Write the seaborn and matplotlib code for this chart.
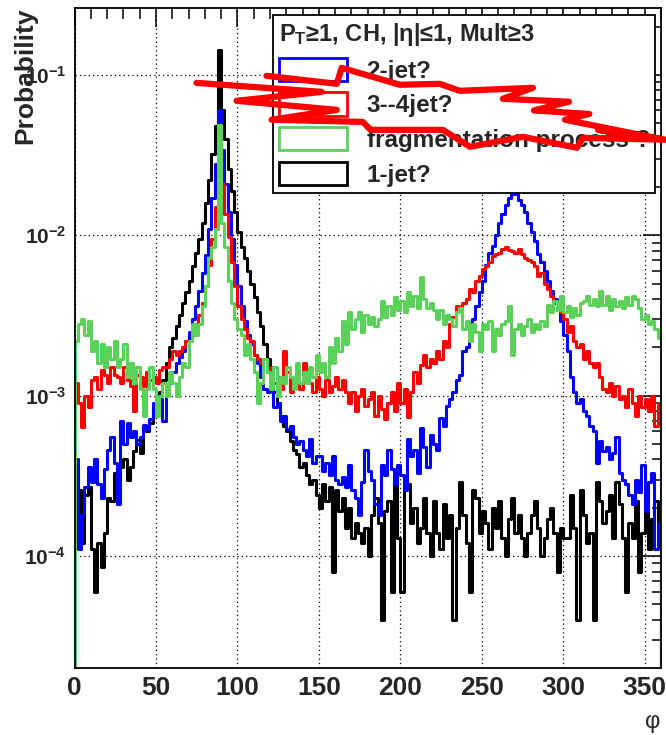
import numpy as np
import pandas as pd
import matplotlib
matplotlib.use("Agg")
import matplotlib.pyplot as plt
from matplotlib.patches import Patch
from matplotlib.ticker import MultipleLocator, LogLocator, FuncFormatter, NullFormatter
import seaborn as sns

# phi binning: 180 bins of 2 degrees, one row below = 20 degrees
phi_edges = list(range(0, 362, 2))
phi_centers = [e + 1 for e in phi_edges[:-1]]

two_jet = [
    4.0e-4, 1.1e-4, 1.8e-4, 2.7e-4, 3.6e-4, 2.9e-4, 4.0e-4, 2.8e-4, 2.3e-4, 3.5e-4,
    4.6e-4, 5.5e-4, 3.8e-4, 2.1e-4, 7.0e-4, 5.0e-4, 6.8e-4, 5.5e-4, 6.0e-4, 5.0e-4,
    5.5e-4, 6.6e-4, 6.2e-4, 7.2e-4, 9.0e-4, 8.0e-4, 9.5e-4, 7.0e-4, 1.05e-3, 1.2e-3,
    1.4e-3, 1.6e-3, 1.75e-3, 1.9e-3, 2.2e-3, 2.5e-3, 3.0e-3, 3.6e-3, 4.5e-3, 5.8e-3,
    7.5e-3, 0.011, 0.017, 0.028, 0.060, 0.034, 0.021, 0.014, 0.0095, 0.0065,
    0.0048, 0.0036, 0.0029, 0.0024, 0.0021, 0.0018, 0.0016, 0.0013, 0.0011, 0.00105,
    1.1e-3, 8.5e-4, 9.0e-4, 7.0e-4, 7.5e-4, 6.2e-4, 6.5e-4, 5.5e-4, 5.0e-4, 5.2e-4,
    4.6e-4, 4.2e-4, 5.4e-4, 3.8e-4, 4.2e-4, 4.2e-4, 3.4e-4, 3.8e-4, 3.2e-4, 4.2e-4,
    3.0e-4, 2.8e-4, 3.1e-4, 2.7e-4, 3.7e-4, 2.6e-4, 2.3e-4, 1.8e-4, 2.9e-4, 4.6e-4,
    3.4e-4, 3.0e-4, 2.1e-4, 1.8e-4, 3.7e-4, 3.2e-4, 4.6e-4, 3.5e-4, 2.8e-4, 3.7e-4,
    3.2e-4, 2.6e-4, 5.4e-4, 4.2e-4, 4.6e-4, 3.3e-4, 6.3e-4, 4.8e-4, 3.6e-4, 5.7e-4,
    5.0e-4, 4.6e-4, 7.3e-4, 6.5e-4, 8.6e-4, 9.5e-4, 1.05e-3, 1.25e-3, 1.35e-3, 1.9e-3,
    2.0e-3, 2.6e-3, 3.0e-3, 3.6e-3, 4.4e-3, 5.2e-3, 6.5e-3, 7.8e-3, 8.6e-3, 1.0e-2,
    1.2e-2, 1.35e-2, 1.55e-2, 1.7e-2, 1.82e-2, 1.8e-2, 1.65e-2, 1.55e-2, 1.4e-2, 1.2e-2,
    1.05e-2, 9.2e-3, 7.6e-3, 6.8e-3, 6.0e-3, 5.2e-3, 4.5e-3, 4.0e-3, 3.5e-3, 2.9e-3,
    2.4e-3, 1.9e-3, 1.3e-3, 1.05e-3, 9.0e-4, 9.5e-4, 8.0e-4, 7.5e-4, 6.5e-4, 6.0e-4,
    3.8e-4, 5.2e-4, 4.5e-4, 4.8e-4, 4.0e-4, 4.4e-4, 5.5e-4, 3.3e-4, 3.0e-4, 2.8e-4,
    2.4e-4, 2.1e-4, 3.0e-4, 2.5e-4, 3.7e-4, 1.9e-4, 2.9e-4, 3.3e-4, 1.1e-4, 1.6e-4,
]

three_four_jet = [
    1.2e-3, 9.0e-4, 6.4e-4, 1.0e-3, 8.5e-4, 1.25e-3, 1.3e-3, 1.1e-3, 1.45e-3, 1.35e-3,
    1.2e-3, 1.5e-3, 1.35e-3, 1.3e-3, 1.2e-3, 1.5e-3, 1.25e-3, 1.15e-3, 8.0e-4, 1.35e-3,
    1.3e-3, 1.15e-3, 1.4e-3, 1.25e-3, 1.3e-3, 1.2e-3, 1.45e-3, 1.5e-3, 1.5e-3, 1.7e-3,
    1.9e-3, 1.8e-3, 1.9e-3, 2.0e-3, 2.2e-3, 2.2e-3, 2.4e-3, 2.8e-3, 3.2e-3, 3.8e-3,
    4.8e-3, 6.5e-3, 9.5e-3, 0.015, 0.026, 0.021, 0.0135, 0.0098, 0.0068, 0.0048,
    0.0036, 0.0030, 0.0026, 0.0023, 0.0022, 0.0018, 0.0017, 0.0016, 0.0017, 0.0014,
    1.5e-3, 1.2e-3, 1.3e-3, 1.1e-3, 1.9e-3, 1.4e-3, 1.05e-3, 1.2e-3, 1.3e-3, 1.1e-3,
    1.6e-3, 1.35e-3, 1.2e-3, 1.05e-3, 1.3e-3, 1.1e-3, 1.0e-3, 1.25e-3, 1.05e-3, 1.15e-3,
    1.3e-3, 1.1e-3, 1.25e-3, 1.05e-3, 9.0e-4, 1.05e-3, 8.0e-4, 1.0e-3, 1.1e-3, 8.6e-4,
    9.5e-4, 1.05e-3, 7.5e-4, 1.0e-3, 8.2e-4, 7.2e-4, 9.0e-4, 1.05e-3, 8.0e-4, 1.2e-3,
    9.0e-4, 1.1e-3, 7.4e-4, 1.05e-3, 1.4e-3, 1.2e-3, 1.55e-3, 1.8e-3, 1.5e-3, 1.7e-3,
    1.6e-3, 1.9e-3, 1.7e-3, 2.2e-3, 2.0e-3, 2.8e-3, 3.1e-3, 3.6e-3, 3.4e-3, 3.8e-3,
    4.0e-3, 4.6e-3, 4.4e-3, 5.2e-3, 5.6e-3, 6.2e-3, 6.4e-3, 6.8e-3, 7.4e-3, 7.6e-3,
    7.8e-3, 8.2e-3, 8.4e-3, 8.1e-3, 8.0e-3, 7.8e-3, 8.2e-3, 7.6e-3, 7.2e-3, 7.0e-3,
    6.8e-3, 6.4e-3, 5.6e-3, 5.8e-3, 5.0e-3, 4.6e-3, 4.2e-3, 3.8e-3, 3.4e-3, 3.3e-3,
    3.0e-3, 2.5e-3, 2.7e-3, 2.2e-3, 2.0e-3, 2.1e-3, 1.7e-3, 1.9e-3, 1.6e-3, 1.5e-3,
    1.6e-3, 1.3e-3, 1.1e-3, 1.05e-3, 1.2e-3, 1.0e-3, 1.15e-3, 9.5e-4, 1.0e-3, 8.5e-4,
    1.1e-3, 9.0e-4, 7.5e-4, 1.0e-3, 8.5e-4, 9.5e-4, 8.0e-4, 1.0e-3, 6.5e-4, 9.0e-4,
]

fragmentation = [
    2.2e-3, 2.8e-3, 3.0e-3, 2.4e-3, 2.9e-3, 1.9e-3, 2.2e-3, 1.6e-3, 2.1e-3, 1.5e-3,
    2.0e-3, 1.7e-3, 2.2e-3, 1.5e-3, 1.7e-3, 2.1e-3, 1.3e-3, 1.6e-3, 1.2e-3, 1.5e-3,
    1.1e-3, 7.5e-4, 1.1e-3, 1.5e-3, 1.1e-3, 7.5e-4, 1.0e-3, 1.2e-3, 1.0e-3, 1.4e-3,
    1.2e-3, 1.0e-3, 1.3e-3, 1.6e-3, 1.5e-3, 2.2e-3, 2.8e-3, 2.4e-3, 2.8e-3, 3.6e-3,
    4.8e-3, 7.2e-3, 8.5e-3, 0.011, 0.049, 0.012, 0.0085, 0.0052, 0.0038, 0.0030,
    0.0026, 0.0024, 0.0018, 0.0021, 0.0017, 0.0014, 9.0e-4, 1.2e-3, 1.7e-3, 1.4e-3,
    1.1e-3, 1.5e-3, 1.0e-3, 1.3e-3, 1.2e-3, 1.5e-3, 1.3e-3, 1.1e-3, 1.6e-3, 1.2e-3,
    1.4e-3, 1.2e-3, 1.5e-3, 1.3e-3, 1.8e-3, 1.4e-3, 1.6e-3, 1.3e-3, 2.0e-3, 1.6e-3,
    2.3e-3, 1.9e-3, 2.9e-3, 2.1e-3, 3.3e-3, 2.6e-3, 3.0e-3, 3.3e-3, 2.5e-3, 3.2e-3,
    2.8e-3, 3.1e-3, 2.7e-3, 3.0e-3, 3.9e-3, 3.1e-3, 3.6e-3, 3.2e-3, 4.1e-3, 3.4e-3,
    3.9e-3, 3.3e-3, 4.4e-3, 3.6e-3, 4.2e-3, 3.5e-3, 5.5e-3, 4.0e-3, 3.5e-3, 3.8e-3,
    3.4e-3, 3.0e-3, 3.4e-3, 2.8e-3, 3.2e-3, 3.0e-3, 2.7e-3, 3.3e-3, 3.5e-3, 2.6e-3,
    2.9e-3, 2.2e-3, 2.8e-3, 2.5e-3, 1.9e-3, 2.8e-3, 2.6e-3, 2.9e-3, 1.9e-3, 2.6e-3,
    2.4e-3, 2.8e-3, 2.9e-3, 3.6e-3, 1.8e-3, 2.6e-3, 2.8e-3, 2.4e-3, 2.7e-3, 3.0e-3,
    2.5e-3, 2.8e-3, 2.6e-3, 2.9e-3, 2.7e-3, 3.7e-3, 3.3e-3, 3.9e-3, 3.4e-3, 4.2e-3,
    3.3e-3, 3.6e-3, 3.1e-3, 3.5e-3, 3.2e-3, 3.8e-3, 3.9e-3, 4.2e-3, 3.7e-3, 4.0e-3,
    3.6e-3, 4.5e-3, 3.7e-3, 4.2e-3, 3.4e-3, 4.0e-3, 3.6e-3, 3.9e-3, 3.5e-3, 4.1e-3,
    3.7e-3, 4.2e-3, 4.0e-3, 3.5e-3, 3.0e-3, 3.2e-3, 2.8e-3, 2.9e-3, 2.6e-3, 2.3e-3,
]

one_jet = [
    1.5e-4, 2.6e-4, 1.2e-4, 2.4e-4, 2.7e-4, 1.1e-4, 6.0e-5, 1.2e-4, 8.5e-5, 1.4e-4,
    2.3e-4, 2.2e-4, 3.3e-4, 2.7e-4, 3.6e-4, 4.0e-4, 3.0e-4, 3.6e-4, 4.5e-4, 5.3e-4,
    4.4e-4, 6.4e-4, 6.0e-4, 6.8e-4, 8.0e-4, 8.5e-4, 1.05e-3, 1.25e-3, 1.6e-3, 2.0e-3,
    2.3e-3, 2.7e-3, 3.2e-3, 3.8e-3, 4.4e-3, 5.2e-3, 6.4e-3, 7.8e-3, 9.5e-3, 0.012,
    0.016, 0.022, 0.032, 0.048, 0.143, 0.060, 0.040, 0.026, 0.019, 0.014,
    0.0105, 0.0085, 0.0072, 0.0060, 0.0050, 0.0041, 0.0033, 0.0027, 0.0021, 0.0017,
    1.3e-3, 1.05e-3, 9.0e-4, 7.5e-4, 6.5e-4, 6.0e-4, 5.2e-4, 4.6e-4, 4.3e-4, 3.6e-4,
    3.8e-4, 3.2e-4, 2.8e-4, 3.0e-4, 2.4e-4, 2.0e-4, 2.8e-4, 2.2e-4, 2.7e-4, 8.0e-5,
    2.6e-4, 1.9e-4, 2.3e-4, 1.5e-4, 2.0e-4, 1.3e-4, 1.6e-4, 1.4e-4, 1.2e-4, 1.5e-4,
    1.0e-4, 1.8e-4, 2.3e-4, 1.6e-4, 4.0e-5, 1.9e-4, 2.2e-4, 6.0e-5, 2.9e-4, 1.3e-4,
    6.0e-5, 2.7e-4, 2.8e-4, 1.6e-4, 2.0e-4, 1.2e-4, 1.5e-4, 2.3e-4, 1.4e-4, 1.0e-4,
    2.2e-4, 1.4e-4, 1.1e-4, 2.1e-4, 1.3e-4, 1.8e-4, 4.0e-5, 1.5e-4, 2.9e-4, 1.8e-4,
    1.2e-4, 6.0e-5, 2.6e-4, 2.3e-4, 1.4e-4, 1.9e-4, 1.6e-4, 1.1e-4, 2.0e-4, 1.5e-4,
    2.2e-4, 1.3e-4, 1.0e-4, 1.7e-4, 2.3e-4, 1.4e-4, 1.8e-4, 1.3e-4, 1.0e-4, 1.4e-4,
    1.8e-4, 2.2e-4, 1.5e-4, 1.0e-4, 1.3e-4, 1.7e-4, 2.0e-4, 1.4e-4, 8.0e-5, 1.5e-4,
    1.3e-4, 1.3e-4, 2.4e-4, 1.5e-4, 4.0e-5, 2.6e-4, 1.8e-4, 1.2e-4, 1.4e-4, 4.0e-5,
    2.9e-4, 2.2e-4, 1.6e-4, 1.9e-4, 2.4e-4, 1.3e-4, 2.9e-4, 2.1e-4, 1.3e-4, 6.0e-5,
    1.6e-4, 1.3e-4, 2.2e-4, 8.0e-5, 1.4e-4, 2.0e-4, 1.1e-4, 1.7e-4, 2.2e-4, 1.6e-4,
]

legend_labels = ["2-jet?", "3--4jet?", "fragmentation process ?", "1-jet?"]
legend_colors = ["#0000ff", "#ff0000", "#5ad25a", "#000000"]
legend_series = [two_jet, three_four_jet, fragmentation, one_jet]
draw_order = [3, 0, 1, 2]  # black underneath, green on top

# hand-drawn red scribble over the legend (phi, probability)
scribble_phi = [117.9, 161.0, 164.0, 199.7, 224.2, 236.5, 281.4, 262.9, 303.5, 282.0,
                316.0, 301.0, 359.0, 321.3, 363.0, 312.1, 308.4, 275.2, 242.7, 226.1,
                181.8, 176.9, 121.0, 161.0, 99.5, 151.7, 74.9]
scribble_prob = [0.0986, 0.0879, 0.1106, 0.0867, 0.0879, 0.0795, 0.0830, 0.0709, 0.0680, 0.0600,
                 0.0570, 0.0525, 0.0400, 0.0454, 0.0394, 0.0405, 0.0351, 0.0411, 0.0356, 0.0454,
                 0.0454, 0.0509, 0.0525, 0.0605, 0.0689, 0.0783, 0.0891]

y_lo, y_hi = 2.02e-5, 0.261

sns.set_theme(style="white")
plt.rcParams["font.family"] = ["Liberation Sans", "DejaVu Sans"]
plt.rcParams["font.weight"] = "bold"
plt.rcParams["mathtext.fontset"] = "custom"
plt.rcParams["mathtext.rm"] = "Liberation Sans:bold"
plt.rcParams["mathtext.bf"] = "Liberation Sans:bold"
plt.rcParams["mathtext.it"] = "Liberation Sans:bold:italic"

fig = plt.figure(figsize=(6.66, 7.35), dpi=100)
ax = fig.add_axes([74.5 / 666, 1 - 667.5 / 735, 586.5 / 666, 659.5 / 735])
ax.set_yscale("log")

for i in draw_order:
    df = pd.DataFrame({"phi": phi_centers, "prob": legend_series[i]})
    sns.histplot(data=df, x="phi", weights="prob", bins=phi_edges, element="step",
                 fill=False, color=legend_colors[i], linewidth=2.2, ax=ax)
    ax.vlines([phi_edges[0], phi_edges[-1]], y_lo, [df["prob"].iloc[0], df["prob"].iloc[-1]],
              colors=legend_colors[i], linewidth=2.2)

ax.set_xlim(0, 360)
ax.set_ylim(y_lo, y_hi)
ax.set_xlabel("")
ax.set_ylabel("")

ax.xaxis.set_major_locator(MultipleLocator(50))
ax.xaxis.set_minor_locator(MultipleLocator(10))
ax.yaxis.set_major_locator(LogLocator(base=10, numticks=12))
ax.yaxis.set_minor_locator(LogLocator(base=10, subs=np.arange(2, 10), numticks=12))
ax.yaxis.set_minor_formatter(NullFormatter())
ax.yaxis.set_major_formatter(FuncFormatter(
    lambda v, pos: r"$\mathbf{10^{%d}}$" % int(round(np.log10(v)))))

ax.grid(True, which="major", color="black", linestyle=(0, (1, 2.5)), linewidth=0.9)
ax.set_axisbelow(True)
for s in ax.spines.values():
    s.set_color("black")
    s.set_linewidth(1.3)

ax.tick_params(which="both", direction="in", top=True, right=True, color="black", width=1.1)
ax.tick_params(axis="x", which="major", length=14, labelsize=19, pad=6)
ax.tick_params(axis="x", which="minor", length=8)
ax.tick_params(axis="y", which="major", length=13, labelsize=15, pad=6)
ax.tick_params(axis="y", which="minor", length=6.5)

handles = [Patch(facecolor="white", edgecolor=c, linewidth=2) for c in legend_colors]
leg = ax.legend(handles=handles, labels=legend_labels,
                title=r"P$_\mathbf{T}$≥1, CH, |η|≤1, Mult≥3",
                loc="upper left", bbox_to_anchor=(273 / 666, 1 - 190 / 735, 382 / 666, 175 / 735),
                bbox_transform=fig.transFigure, mode="expand", borderaxespad=0,
                fontsize=17.5, title_fontproperties={"weight": "bold", "size": 17},
                alignment="left", handlelength=2.8, handleheight=1.1, handletextpad=0.8,
                labelspacing=0.4, borderpad=0.25, fancybox=False, framealpha=1,
                edgecolor="black")
leg.get_frame().set_linewidth(1.3)

ax.plot(scribble_phi, scribble_prob, color="red", linewidth=4.5, solid_capstyle="round",
        solid_joinstyle="round", zorder=10, clip_on=False)

fig.text(25 / 666, 1 - 8 / 735, "Probability", rotation=90, ha="center", va="top",
         fontsize=19, fontweight="bold")
fig.text(653 / 666, 1 - 722 / 735, "φ", ha="center", va="center", fontsize=17,
         fontweight="normal")

fig.savefig("out.png", dpi=100)
